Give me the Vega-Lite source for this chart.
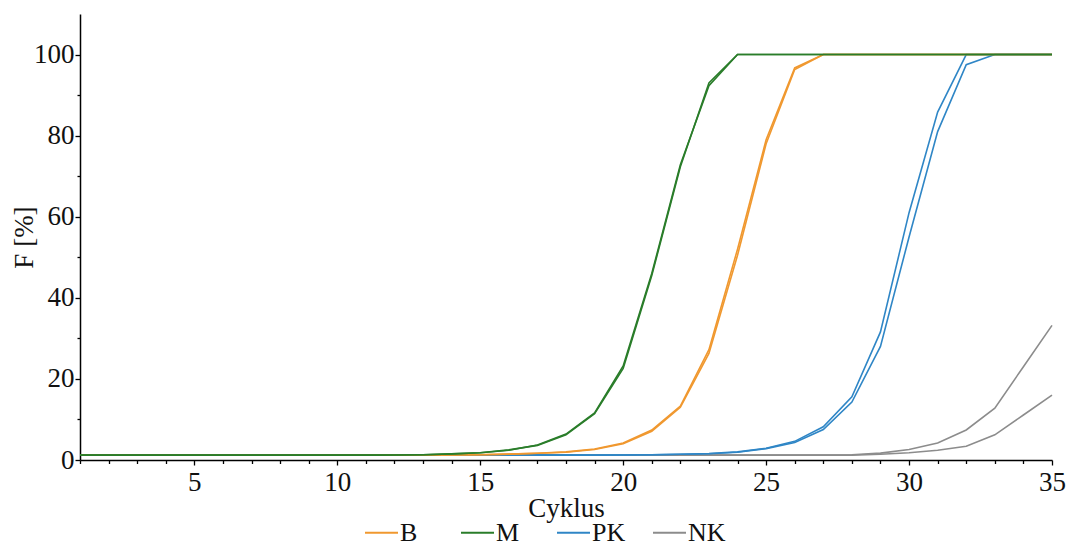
{
  "$schema": "https://vega.github.io/schema/vega-lite/v6.json",
  "width": 972,
  "height": 446,
  "autosize": {"type": "none"},
  "padding": {"left": 80, "top": 14, "right": 18, "bottom": 88},
  "background": "white",
  "config": {
    "font": "Liberation Serif",
    "view": {"stroke": null},
    "axis": {"grid": false, "domainColor": "#000", "domainWidth": 1.5, "tickColor": "#000", "tickWidth": 1.3, "labelColor": "#111", "titleColor": "#111", "labelFontSize": 27, "titleFontSize": 27, "titleFontWeight": "normal", "labelOverlap": false, "labelFlush": false}
  },
  "datasets": {
    "curves": [
      {"c": 1, "B1": 1.2, "B2": 1.2, "M1": 1.2, "M2": 1.2, "PK1": 1.2, "PK2": 1.2, "NK1": 1.2, "NK2": 1.2},
      {"c": 2, "B1": 1.2, "B2": 1.2, "M1": 1.2, "M2": 1.2, "PK1": 1.2, "PK2": 1.2, "NK1": 1.2, "NK2": 1.2},
      {"c": 3, "B1": 1.2, "B2": 1.2, "M1": 1.2, "M2": 1.2, "PK1": 1.2, "PK2": 1.2, "NK1": 1.2, "NK2": 1.2},
      {"c": 4, "B1": 1.2, "B2": 1.2, "M1": 1.2, "M2": 1.2, "PK1": 1.2, "PK2": 1.2, "NK1": 1.2, "NK2": 1.2},
      {"c": 5, "B1": 1.2, "B2": 1.2, "M1": 1.2, "M2": 1.2, "PK1": 1.2, "PK2": 1.2, "NK1": 1.2, "NK2": 1.2},
      {"c": 6, "B1": 1.2, "B2": 1.2, "M1": 1.2, "M2": 1.2, "PK1": 1.2, "PK2": 1.2, "NK1": 1.2, "NK2": 1.2},
      {"c": 7, "B1": 1.2, "B2": 1.2, "M1": 1.2, "M2": 1.2, "PK1": 1.2, "PK2": 1.2, "NK1": 1.2, "NK2": 1.2},
      {"c": 8, "B1": 1.2, "B2": 1.2, "M1": 1.2, "M2": 1.2, "PK1": 1.2, "PK2": 1.2, "NK1": 1.2, "NK2": 1.2},
      {"c": 9, "B1": 1.2, "B2": 1.2, "M1": 1.2, "M2": 1.2, "PK1": 1.2, "PK2": 1.2, "NK1": 1.2, "NK2": 1.2},
      {"c": 10, "B1": 1.2, "B2": 1.2, "M1": 1.2, "M2": 1.2, "PK1": 1.2, "PK2": 1.2, "NK1": 1.2, "NK2": 1.2},
      {"c": 11, "B1": 1.2, "B2": 1.2, "M1": 1.2, "M2": 1.2, "PK1": 1.2, "PK2": 1.2, "NK1": 1.2, "NK2": 1.2},
      {"c": 12, "B1": 1.2, "B2": 1.2, "M1": 1.25, "M2": 1.25, "PK1": 1.2, "PK2": 1.2, "NK1": 1.2, "NK2": 1.2},
      {"c": 13, "B1": 1.2, "B2": 1.2, "M1": 1.3, "M2": 1.3, "PK1": 1.2, "PK2": 1.2, "NK1": 1.2, "NK2": 1.2},
      {"c": 14, "B1": 1.25, "B2": 1.25, "M1": 1.5, "M2": 1.5, "PK1": 1.2, "PK2": 1.2, "NK1": 1.2, "NK2": 1.2},
      {"c": 15, "B1": 1.3, "B2": 1.3, "M1": 1.8, "M2": 1.8, "PK1": 1.2, "PK2": 1.2, "NK1": 1.2, "NK2": 1.2},
      {"c": 16, "B1": 1.45, "B2": 1.45, "M1": 2.4, "M2": 2.5, "PK1": 1.2, "PK2": 1.2, "NK1": 1.2, "NK2": 1.2},
      {"c": 17, "B1": 1.65, "B2": 1.65, "M1": 3.7, "M2": 3.6, "PK1": 1.2, "PK2": 1.2, "NK1": 1.2, "NK2": 1.2},
      {"c": 18, "B1": 2.0, "B2": 1.9, "M1": 6.4, "M2": 6.2, "PK1": 1.2, "PK2": 1.2, "NK1": 1.2, "NK2": 1.2},
      {"c": 19, "B1": 2.7, "B2": 2.6, "M1": 11.6, "M2": 11.4, "PK1": 1.2, "PK2": 1.2, "NK1": 1.2, "NK2": 1.2},
      {"c": 20, "B1": 4.2, "B2": 4.0, "M1": 23.2, "M2": 22.6, "PK1": 1.25, "PK2": 1.25, "NK1": 1.2, "NK2": 1.2},
      {"c": 21, "B1": 7.4, "B2": 7.1, "M1": 46.0, "M2": 45.5, "PK1": 1.3, "PK2": 1.3, "NK1": 1.2, "NK2": 1.2},
      {"c": 22, "B1": 13.3, "B2": 13.0, "M1": 72.8, "M2": 72.3, "PK1": 1.4, "PK2": 1.4, "NK1": 1.2, "NK2": 1.2},
      {"c": 23, "B1": 27.2, "B2": 26.3, "M1": 92.3, "M2": 93.0, "PK1": 1.6, "PK2": 1.55, "NK1": 1.2, "NK2": 1.2},
      {"c": 24, "B1": 52.0, "B2": 50.5, "M1": 100, "M2": 100, "PK1": 2.0, "PK2": 1.9, "NK1": 1.2, "NK2": 1.2},
      {"c": 25, "B1": 79.0, "B2": 78.0, "M1": 100, "M2": 100, "PK1": 2.9, "PK2": 2.8, "NK1": 1.2, "NK2": 1.2},
      {"c": 26, "B1": 96.7, "B2": 96.3, "M1": 100, "M2": 100, "PK1": 4.6, "PK2": 4.3, "NK1": 1.2, "NK2": 1.2},
      {"c": 27, "B1": 100, "B2": 100, "M1": 100, "M2": 100, "PK1": 8.2, "PK2": 7.5, "NK1": 1.2, "NK2": 1.2},
      {"c": 28, "B1": 100, "B2": 100, "M1": 100, "M2": 100, "PK1": 15.6, "PK2": 14.3, "NK1": 1.3, "NK2": 1.2},
      {"c": 29, "B1": 100, "B2": 100, "M1": 100, "M2": 100, "PK1": 31.6, "PK2": 28.0, "NK1": 1.7, "NK2": 1.4},
      {"c": 30, "B1": 100, "B2": 100, "M1": 100, "M2": 100, "PK1": 61.0, "PK2": 55.0, "NK1": 2.6, "NK2": 1.8},
      {"c": 31, "B1": 100, "B2": 100, "M1": 100, "M2": 100, "PK1": 85.8, "PK2": 81.0, "NK1": 4.2, "NK2": 2.4},
      {"c": 32, "B1": 100, "B2": 100, "M1": 100, "M2": 100, "PK1": 100, "PK2": 97.5, "NK1": 7.4, "NK2": 3.4},
      {"c": 33, "B1": 100, "B2": 100, "M1": 100, "M2": 100, "PK1": 100, "PK2": 100, "NK1": 12.8, "NK2": 6.2},
      {"c": 34, "B1": 100, "B2": 100, "M1": 100, "M2": 100, "PK1": 100, "PK2": 100, "NK1": 23.0, "NK2": 11.1},
      {"c": 35, "B1": 100, "B2": 100, "M1": 100, "M2": 100, "PK1": 100, "PK2": 100, "NK1": 33.2, "NK2": 16.0}
    ],
    "seriesMap": [
      {"series": "NK1", "sample": "NK"},
      {"series": "NK2", "sample": "NK"},
      {"series": "PK1", "sample": "PK"},
      {"series": "PK2", "sample": "PK"},
      {"series": "B1", "sample": "B"},
      {"series": "B2", "sample": "B"},
      {"series": "M1", "sample": "M"},
      {"series": "M2", "sample": "M"}
    ]
  },
  "data": {"name": "curves"},
  "transform": [
    {"fold": ["NK1", "NK2", "PK1", "PK2", "B1", "B2", "M1", "M2"], "as": ["series", "F"]},
    {"lookup": "series", "from": {"data": {"name": "seriesMap"}, "key": "series", "fields": ["sample"]}}
  ],
  "mark": {"type": "line", "strokeWidth": 1.6},
  "encoding": {
    "x": {
      "field": "c", "type": "quantitative",
      "scale": {"domain": [1, 35], "nice": false, "zero": false},
      "axis": {
        "title": "Cyklus",
        "values": [1,2,3,4,5,6,7,8,9,10,11,12,13,14,15,16,17,18,19,20,21,22,23,24,25,26,27,28,29,30,31,32,33,34,35],
        "labelExpr": "datum.value % 5 === 0 ? datum.label : ''",
        "tickSize": {"condition": {"test": "datum.value % 5 === 0", "value": 5}, "value": 3.5},
        "labelPadding": 4,
        "titlePadding": 0
      }
    },
    "y": {
      "field": "F", "type": "quantitative",
      "scale": {"domain": [0, 110], "nice": false},
      "axis": {
        "title": "F [%]",
        "values": [0,10,20,30,40,50,60,70,80,90,100],
        "labelExpr": "datum.value % 20 === 0 ? datum.label : ''",
        "tickSize": {"condition": {"test": "datum.value % 20 === 0", "value": 5}, "value": 3},
        "labelPadding": 1,
        "titleX": -42
      }
    },
    "color": {
      "field": "sample", "type": "nominal",
      "scale": {"domain": ["B", "M", "PK", "NK"], "range": ["#F0982F", "#2A7D2A", "#2F86C6", "#8C8C8C"]},
      "legend": {
        "orient": "none", "legendX": 284, "legendY": 501,
        "direction": "horizontal", "columns": 4, "title": null,
        "symbolType": "stroke", "symbolSize": 1089, "symbolStrokeWidth": 2,
        "labelFontSize": 26, "labelColor": "#111", "labelOffset": 1,
        "gridAlign": "all", "columnPadding": 19, "padding": 0
      }
    },
    "detail": {"field": "series"}
  }
}
